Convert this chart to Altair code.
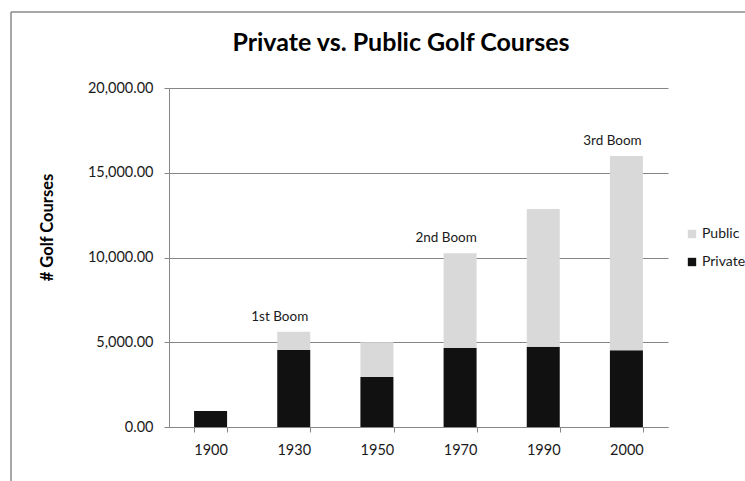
import altair as alt
import pandas as pd

years = ["1900", "1930", "1950", "1970", "1990", "2000"]
private = [950, 4540, 2950, 4660, 4740, 4530]
public = [0, 1080, 2050, 5590, 8120, 11460]
boom_years = ["1930", "1970", "2000"]
boom_labels = ["1st Boom", "2nd Boom", "3rd Boom"]
title_text = "Private vs. Public Golf Courses"

FONT = "Lato"

rows = []
for y, pr, pu in zip(years, private, public):
    rows.append({"year": y, "type": "Private", "value": pr, "ord": 0})
    rows.append({"year": y, "type": "Public", "value": pu, "ord": 1})
df = pd.DataFrame(rows)

totals = {y: pr + pu for y, pr, pu in zip(years, private, public)}
ann = pd.DataFrame({"year": boom_years, "label": boom_labels,
                    "total": [totals[y] for y in boom_years]})

xenc = alt.X("year:N", sort=years, title=None,
             scale=alt.Scale(paddingInner=0.6, paddingOuter=0.3),
             axis=alt.Axis(labelAngle=0, labelFontSize=14.5, labelFont=FONT,
                           labelColor="#1a1a1a", tickBand="extent", tickSize=5,
                           tickColor="#868686", domainColor="#868686",
                           labelPadding=11, grid=False))

bars = alt.Chart(df).mark_bar(size=33).encode(
    x=xenc,
    y=alt.Y("value:Q", stack="zero",
            scale=alt.Scale(domain=[0, 20000]),
            axis=alt.Axis(values=[0, 5000, 10000, 15000, 20000], format=",.2f",
                          title="# Golf Courses", titleFont=FONT, titleFontSize=16.5,
                          titleFontWeight="bold", titleColor="#000000",
                          titleAngle=-90, titleAlign="center", titleBaseline="middle",
                          titleX=-122, titleY=139,
                          labelFont=FONT, labelFontSize=14.5, labelColor="#1a1a1a",
                          labelPadding=11, tickSize=5, tickColor="#868686",
                          domainColor="#868686", gridColor="#868686")),
    color=alt.Color("type:N",
                    scale=alt.Scale(domain=["Public", "Private"],
                                    range=["#d9d9d9", "#111111"]),
                    legend=alt.Legend(title=None, orient="none", legendX=516, legendY=139,
                                      symbolType="square", symbolSize=70,
                                      symbolStrokeWidth=0, labelFont=FONT,
                                      labelFontSize=14, labelColor="#1a1a1a",
                                      rowPadding=14, padding=0, labelOffset=3)),
    order=alt.Order("ord:Q"),
)

labels = alt.Chart(ann).mark_text(font=FONT, fontSize=13.5, color="#1a1a1a",
                                  baseline="bottom", dy=-8, dx=-14).encode(
    x=alt.X("year:N", sort=years),
    y=alt.Y("total:Q"),
    text="label:N",
)

title = alt.Chart(pd.DataFrame({"t": [title_text]})).mark_text(
    font=FONT, fontSize=25, fontWeight="bold", color="#000000",
    align="center", baseline="middle").encode(
    x=alt.value(232), y=alt.value(-45), text="t:N")

frame_left = alt.Chart(pd.DataFrame({"a": [0]})).mark_rule(color="#8a8a8a", strokeWidth=1.5).encode(
    x=alt.value(-158), y=alt.value(-76), y2=alt.value(400))
frame_top = alt.Chart(pd.DataFrame({"a": [0]})).mark_rule(color="#8a8a8a", strokeWidth=1.5).encode(
    x=alt.value(-158), x2=alt.value(600), y=alt.value(-76))

chart = alt.layer(bars, labels, title, frame_left, frame_top).properties(
    width=499, height=339,
    autosize=alt.AutoSizeParams(type="none"),
    padding={"left": 169, "top": 88, "right": 77, "bottom": 54},
).configure_view(stroke=None).configure_axis(domainWidth=1, gridWidth=1)

chart.save("out.html", embed_options={"renderer": "svg", "actions": False})
